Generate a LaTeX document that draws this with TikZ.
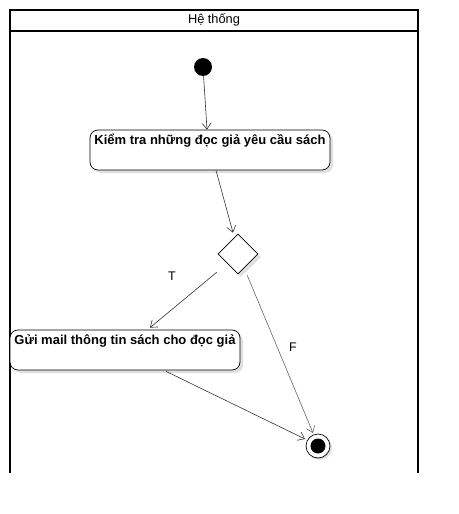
\documentclass[tikz,border=0pt]{standalone}
\usepackage{fontspec}
\setmainfont{Liberation Sans}
\usetikzlibrary{arrows.meta,shapes.geometric,shadows}
\tikzset{
  action/.style={draw, rounded corners=8pt, fill=white, line width=0.7pt,
    text height=10pt, text depth=22pt, inner ysep=4pt, inner xsep=2pt,
    font=\fontsize{13}{15}\selectfont\bfseries,
    drop shadow={shadow xshift=3pt, shadow yshift=-3pt, fill=black!12, opacity=1}},
  flow/.style={-{Straight Barb[length=6pt,width=9pt]}, draw=black!80, line width=0.6pt},
  guard/.style={font=\fontsize{12.5}{14}\selectfont},
}
\begin{document}
\begin{tikzpicture}[x=1pt,y=-1pt]
      \useasboundingbox (0,0) rectangle (458,514);
      % swimlane
      \draw[line width=1.6pt] (10,473) |- (418,10) -- (418,473);
      \draw[line width=1.6pt] (10,31) -- (418,31);
      \node[font=\fontsize{12.8}{14}\selectfont] (lane) at (214,20) {Hệ thống};
      % nodes
      \node[circle, fill=black, minimum size=18pt, inner sep=0] (start) at (203,67) {};
      \node[action, minimum width=240pt] (check) at (210,150) {Kiểm tra những đọc giả yêu cầu sách};
      \node[diamond, draw, fill=white, aspect=1, inner sep=0, minimum size=40pt, line width=0.7pt,
        drop shadow={shadow xshift=3pt, shadow yshift=-3pt, fill=black!12, opacity=1}] (dec) at (238,254) {};
      \node[action, minimum width=230pt] (mail) at (125,350) {Gửi mail thông tin sách cho đọc giả};
      \node[circle, draw, fill=white, minimum size=24pt, inner sep=0, line width=0.7pt,
        drop shadow={shadow xshift=2pt, shadow yshift=-2pt, fill=black!12, opacity=1}] (fin) at (318,446) {};
      \node[circle, fill=black, minimum size=15pt, inner sep=0] (fincore) at (fin) {};
      % connectors
      \draw[flow] (start) -- ([xshift=-3pt]check.north);
      \draw[flow] ([xshift=6pt]check.south) -- ([xshift=-5pt,yshift=1pt]dec.north);
      \draw[flow] ([xshift=-11pt,yshift=-8pt]dec.south west) -- ([xshift=25pt,yshift=2pt]mail.north);
      \draw[flow, draw=black!60] ([xshift=-1pt,yshift=-11pt]dec.south east) -- ([xshift=-5pt,yshift=13pt]fin.center);
      \draw[flow] ([xshift=41pt,yshift=-1pt]mail.south) -- ([xshift=-13pt,yshift=7pt]fin.center);
      % guards
      \node[guard] (t) at (172,276) {T};
      \node[guard] (f) at (293,347) {F};
    \end{tikzpicture}
\end{document}
